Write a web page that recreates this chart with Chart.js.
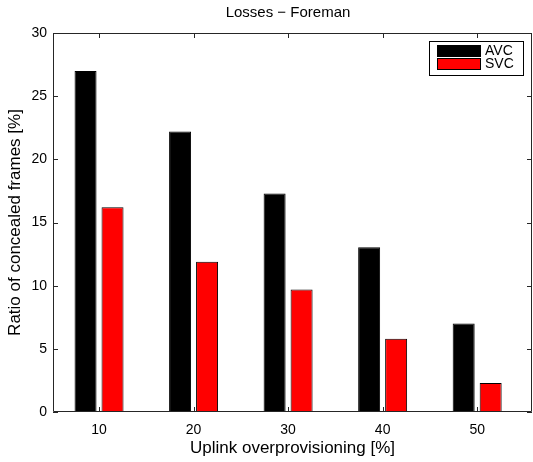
<!DOCTYPE html>
<html>
<head>
<meta charset="utf-8">
<script src="https://cdn.jsdelivr.net/npm/chart.js@4"></script>
<style>
  html, body { margin: 0; padding: 0; background: #fff; }
  #wrap { width: 533px; height: 462px; }
</style>
</head>
<body>
<div id="wrap"><canvas id="myChart" width="533" height="462"></canvas></div>
<script>
// data
const categories = [10, 20, 30, 40, 50];
const avcValues = [27.0, 22.2, 17.3, 13.05, 7.0];
const svcValues = [16.2, 11.9, 9.7, 5.8, 2.3];
const yTicks = [0, 5, 10, 15, 20, 25, 30];
const seriesNames = ['AVC', 'SVC'];
const seriesColors = ['#000000', '#ff0000'];

const FONT = "'Liberation Sans', Arial, Helvetica, sans-serif";

function toPoints(vals) {
  return categories.map((c, i) => ({ x: c, y: vals[i] }));
}

// box, inward ticks, title and legend, matlab style
const matlabAxes = {
  id: 'matlabAxes',
  afterDraw(chart) {
    const ctx = chart.ctx;
    const a = chart.chartArea;
    const xs = chart.scales.x, ys = chart.scales.y;
    ctx.save();
    ctx.strokeStyle = '#262626';
    ctx.lineWidth = 1;
    ctx.beginPath();
    ctx.rect(a.left + 0.5, a.top + 0.5, a.right - a.left - 1, a.bottom - a.top - 1);
    ctx.stroke();
    ctx.beginPath();
    const tl = 5;
    categories.forEach(v => {
      const px = Math.round(xs.getPixelForValue(v)) + 0.5;
      ctx.moveTo(px, a.bottom); ctx.lineTo(px, a.bottom - tl);
      ctx.moveTo(px, a.top); ctx.lineTo(px, a.top + tl);
    });
    yTicks.forEach(v => {
      const py = Math.round(ys.getPixelForValue(v)) + 0.5;
      ctx.moveTo(a.left, py); ctx.lineTo(a.left + tl, py);
      ctx.moveTo(a.right, py); ctx.lineTo(a.right - tl, py);
    });
    ctx.stroke();

    // title
    ctx.fillStyle = '#000';
    ctx.font = '15px ' + FONT;
    ctx.textAlign = 'center';
    ctx.textBaseline = 'middle';
    ctx.fillText('Losses \u2212 Foreman', 288, 13);

    // legend
    const lx = 429, ly = 41, lw = 94, lh = 34;
    ctx.fillStyle = '#fff';
    ctx.fillRect(lx, ly, lw, lh);
    ctx.strokeStyle = '#000';
    ctx.strokeRect(lx + 0.5, ly + 0.5, lw, lh);
    ctx.font = '14px ' + FONT;
    ctx.textAlign = 'left';
    seriesNames.forEach((name, i) => {
      const ry = ly + 4 + i * 13;
      ctx.fillStyle = seriesColors[i];
      ctx.fillRect(437, ry, 44, 12);
      ctx.strokeStyle = '#000';
      ctx.strokeRect(437.5, ry + 0.5, 43, 11);
      ctx.fillStyle = '#000';
      ctx.fillText(name, 485, ry + 6.5);
    });
    ctx.restore();
  }
};

new Chart(document.getElementById('myChart'), {
  type: 'bar',
  data: {
    datasets: [
      { label: seriesNames[0], data: toPoints(avcValues), backgroundColor: seriesColors[0], borderColor: '#000', borderWidth: 1 },
      { label: seriesNames[1], data: toPoints(svcValues), backgroundColor: seriesColors[1], borderColor: '#000', borderWidth: 1 }
    ]
  },
  options: {
    responsive: false,
    animation: false,
    devicePixelRatio: 1,
    layout: { padding: { top: 33, right: 1, left: 0, bottom: 0 } },
    categoryPercentage: 0.571,
    barPercentage: 0.815,
    plugins: { legend: { display: false }, title: { display: false }, tooltip: { enabled: false } },
    scales: {
      x: {
        type: 'linear',
        offset: false,
        min: 5.13,
        max: 55.8,
        grid: { display: false, drawTicks: false },
        border: { display: false },
        afterBuildTicks: s => { s.ticks = categories.map(v => ({ value: v })); },
        afterFit: s => { s.height = 50; },
        ticks: { color: '#000', font: { family: FONT, size: 14 }, padding: 10, maxRotation: 0, autoSkip: false },
        title: { display: true, text: 'Uplink overprovisioning [%]', color: '#000', font: { family: FONT, size: 17 }, padding: { top: 3, bottom: 3 } }
      },
      y: {
        min: 0,
        max: 30,
        grid: { display: false, drawTicks: false },
        border: { display: false },
        afterBuildTicks: s => { s.ticks = yTicks.map(v => ({ value: v })); },
        afterFit: s => { s.width = 53; },
        ticks: { color: '#000', font: { family: FONT, size: 14 }, padding: 6 },
        title: { display: true, text: 'Ratio of concealed frames [%]', color: '#000', font: { family: FONT, size: 17 }, padding: { top: 5, bottom: 5 } }
      }
    }
  },
  plugins: [matlabAxes]
});
</script>
</body>
</html>
